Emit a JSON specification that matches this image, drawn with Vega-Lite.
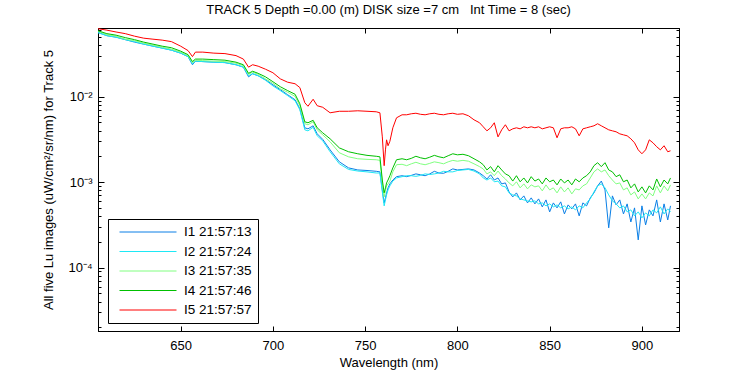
{
  "$schema": "https://vega.github.io/schema/vega-lite/v6.json",
  "width": 581,
  "height": 303,
  "autosize": {"type": "none"},
  "padding": {"left": 98, "top": 28, "right": 71, "bottom": 44},
  "background": "white",
  "title": {"text": "TRACK 5 Depth =0.00 (m) DISK size =7 cm \u00a0 Int Time = 8 (sec)", "fontSize": 13, "font": "Liberation Sans", "fontWeight": "normal", "color": "black", "offset": 9},
  "config": {
    "view": {"stroke": "black", "strokeWidth": 1},
    "axis": {"domainColor": "black", "tickColor": "black", "labelColor": "black", "titleColor": "black", "labelFont": "Liberation Sans", "titleFont": "Liberation Sans", "labelFontSize": 13, "titleFontSize": 13, "titleFontWeight": "normal", "grid": false}
  },
  "data": {"values": [
    {"w": 605, "I1": 0.0570, "I2": 0.0563, "I3": 0.0586, "I4": 0.0594, "I5": 0.0627},
    {"w": 610, "I1": 0.0519, "I2": 0.0519, "I3": 0.0533, "I4": 0.0548, "I5": 0.0602},
    {"w": 615, "I1": 0.0498, "I2": 0.0498, "I3": 0.0512, "I4": 0.0526, "I5": 0.0573},
    {"w": 620, "I1": 0.0466, "I2": 0.0466, "I3": 0.0472, "I4": 0.0492, "I5": 0.0548},
    {"w": 625, "I1": 0.0436, "I2": 0.0442, "I3": 0.0454, "I4": 0.0466, "I5": 0.0512},
    {"w": 630, "I1": 0.0413, "I2": 0.0413, "I3": 0.0424, "I4": 0.0436, "I5": 0.0485},
    {"w": 635, "I1": 0.0391, "I2": 0.0391, "I3": 0.0402, "I4": 0.0413, "I5": 0.0472},
    {"w": 640, "I1": 0.0371, "I2": 0.0371, "I3": 0.0380, "I4": 0.0391, "I5": 0.0460},
    {"w": 645, "I1": 0.0351, "I2": 0.0351, "I3": 0.0361, "I4": 0.0375, "I5": 0.0442},
    {"w": 650, "I1": 0.0324, "I2": 0.0324, "I3": 0.0333, "I4": 0.0342, "I5": 0.0391},
    {"w": 654, "I1": 0.0295, "I2": 0.0295, "I3": 0.0303, "I4": 0.0311, "I5": 0.0347},
    {"w": 656.4, "I1": 0.0237, "I2": 0.0243, "I3": 0.0251, "I4": 0.0258, "I5": 0.0295},
    {"w": 658, "I1": 0.0261, "I2": 0.0261, "I3": 0.0268, "I4": 0.0276, "I5": 0.0333},
    {"w": 662, "I1": 0.0258, "I2": 0.0258, "I3": 0.0265, "I4": 0.0276, "I5": 0.0333},
    {"w": 668, "I1": 0.0254, "I2": 0.0254, "I3": 0.0261, "I4": 0.0272, "I5": 0.0324},
    {"w": 674, "I1": 0.0251, "I2": 0.0251, "I3": 0.0258, "I4": 0.0268, "I5": 0.0320},
    {"w": 680, "I1": 0.0237, "I2": 0.0237, "I3": 0.0247, "I4": 0.0254, "I5": 0.0303},
    {"w": 684, "I1": 0.0222, "I2": 0.0222, "I3": 0.0231, "I4": 0.0237, "I5": 0.0276},
    {"w": 686.8, "I1": 0.0171, "I2": 0.0176, "I3": 0.0183, "I4": 0.0188, "I5": 0.0222},
    {"w": 689, "I1": 0.0186, "I2": 0.0186, "I3": 0.0194, "I4": 0.0199, "I5": 0.0237},
    {"w": 692, "I1": 0.0176, "I2": 0.0176, "I3": 0.0183, "I4": 0.0188, "I5": 0.0228},
    {"w": 696, "I1": 0.0158, "I2": 0.0156, "I3": 0.0162, "I4": 0.0171, "I5": 0.0210},
    {"w": 700, "I1": 0.0138, "I2": 0.0134, "I3": 0.0144, "I4": 0.0150, "I5": 0.0191},
    {"w": 704, "I1": 0.0121, "I2": 0.0118, "I3": 0.0124, "I4": 0.0131, "I5": 0.0162},
    {"w": 708, "I1": 0.01055, "I2": 0.0103, "I3": 0.0113, "I4": 0.0118, "I5": 0.0148},
    {"w": 712, "I1": 0.00922, "I2": 0.00897, "I3": 0.0101, "I4": 0.0107, "I5": 0.0142},
    {"w": 714.6, "I1": 0.00723, "I2": 0.00704, "I3": 0.00785, "I4": 0.00828, "I5": 0.0128},
    {"w": 717.3, "I1": 0.00433, "I2": 0.00410, "I3": 0.00483, "I4": 0.00509, "I5": 0.00851},
    {"w": 719, "I1": 0.00421, "I2": 0.00399, "I3": 0.00470, "I4": 0.00496, "I5": 0.00774},
    {"w": 721.8, "I1": 0.00457, "I2": 0.00439, "I3": 0.00509, "I4": 0.00530, "I5": 0.00935},
    {"w": 724, "I1": 0.00368, "I2": 0.00349, "I3": 0.00410, "I4": 0.00433, "I5": 0.00785},
    {"w": 727, "I1": 0.00317, "I2": 0.00305, "I3": 0.00358, "I4": 0.00378, "I5": 0.00753},
    {"w": 731, "I1": 0.00239, "I2": 0.00227, "I3": 0.00297, "I4": 0.00322, "I5": 0.00649},
    {"w": 736, "I1": 0.00173, "I2": 0.00164, "I3": 0.00221, "I4": 0.00252, "I5": 0.00676},
    {"w": 741, "I1": 0.00147, "I2": 0.00141, "I3": 0.00198, "I4": 0.00227, "I5": 0.00676},
    {"w": 746, "I1": 0.00139, "I2": 0.00135, "I3": 0.00188, "I4": 0.00215, "I5": 0.00685},
    {"w": 751, "I1": 0.00137, "I2": 0.00132, "I3": 0.00185, "I4": 0.00206, "I5": 0.00676},
    {"w": 756, "I1": 0.00134, "I2": 0.00128, "I3": 0.00183, "I4": 0.00201, "I5": 0.00667},
    {"w": 758, "I1": 0.00132, "I2": 0.00128, "I3": 0.00180, "I4": 0.00198, "I5": 0.00649},
    {"w": 759.3, "I1": 0.000812, "I2": 0.000769, "I3": 0.000980, "I4": 0.00106, "I5": 0.00339},
    {"w": 760.3, "I1": 0.000572, "I2": 0.000528, "I3": 0.000672, "I4": 0.000750, "I5": 0.00156},
    {"w": 761, "I1": 0.000655, "I2": 0.000620, "I3": 0.000791, "I4": 0.000858, "I5": 0.00239},
    {"w": 761.6, "I1": 0.000750, "I2": 0.000710, "I3": 0.000905, "I4": 0.000980, "I5": 0.00313},
    {"w": 762.4, "I1": 0.000858, "I2": 0.000812, "I3": 0.000955, "I4": 0.00106, "I5": 0.00267},
    {"w": 763.4, "I1": 0.000955, "I2": 0.000905, "I3": 0.00103, "I4": 0.00119, "I5": 0.00301},
    {"w": 765, "I1": 0.00106, "I2": 0.00103, "I3": 0.00132, "I4": 0.00147, "I5": 0.00433},
    {"w": 767, "I1": 0.00116, "I2": 0.00112, "I3": 0.00160, "I4": 0.00183, "I5": 0.00567},
    {"w": 770, "I1": 0.00119, "I2": 0.00116, "I3": 0.00162, "I4": 0.00188, "I5": 0.00615},
    {"w": 772.5, "I1": 0.00116, "I2": 0.00119, "I3": 0.00156, "I4": 0.00183, "I5": 0.00615},
    {"w": 775, "I1": 0.00120, "I2": 0.00119, "I3": 0.00164, "I4": 0.00190, "I5": 0.00632},
    {"w": 777.5, "I1": 0.00125, "I2": 0.00117, "I3": 0.00171, "I4": 0.00201, "I5": 0.00641},
    {"w": 780, "I1": 0.00122, "I2": 0.00120, "I3": 0.00164, "I4": 0.00193, "I5": 0.00623},
    {"w": 782.5, "I1": 0.00119, "I2": 0.00125, "I3": 0.00160, "I4": 0.00188, "I5": 0.00615},
    {"w": 785, "I1": 0.00125, "I2": 0.00123, "I3": 0.00166, "I4": 0.00196, "I5": 0.00632},
    {"w": 787.5, "I1": 0.00134, "I2": 0.00125, "I3": 0.00173, "I4": 0.00206, "I5": 0.00641},
    {"w": 790, "I1": 0.00128, "I2": 0.00128, "I3": 0.00169, "I4": 0.00198, "I5": 0.00623},
    {"w": 792.5, "I1": 0.00127, "I2": 0.00134, "I3": 0.00164, "I4": 0.00193, "I5": 0.00615},
    {"w": 795, "I1": 0.00134, "I2": 0.00132, "I3": 0.00173, "I4": 0.00204, "I5": 0.00632},
    {"w": 797.5, "I1": 0.00143, "I2": 0.00132, "I3": 0.00180, "I4": 0.00215, "I5": 0.00641},
    {"w": 800, "I1": 0.00139, "I2": 0.00137, "I3": 0.00176, "I4": 0.00209, "I5": 0.00623},
    {"w": 803, "I1": 0.00141, "I2": 0.00139, "I3": 0.00180, "I4": 0.00212, "I5": 0.00632},
    {"w": 806, "I1": 0.00143, "I2": 0.00141, "I3": 0.00176, "I4": 0.00204, "I5": 0.00599},
    {"w": 809, "I1": 0.00139, "I2": 0.00135, "I3": 0.00164, "I4": 0.00188, "I5": 0.00537},
    {"w": 812, "I1": 0.00128, "I2": 0.00125, "I3": 0.00152, "I4": 0.00173, "I5": 0.00496},
    {"w": 814, "I1": 0.00119, "I2": 0.00112, "I3": 0.00143, "I4": 0.00160, "I5": 0.00445},
    {"w": 816, "I1": 0.00109, "I2": 0.00106, "I3": 0.00125, "I4": 0.00139, "I5": 0.00399},
    {"w": 818, "I1": 0.00122, "I2": 0.00112, "I3": 0.00132, "I4": 0.00152, "I5": 0.00433},
    {"w": 820, "I1": 0.00106, "I2": 0.00101, "I3": 0.00119, "I4": 0.00132, "I5": 0.00496},
    {"w": 822, "I1": 0.00112, "I2": 0.00103, "I3": 0.00135, "I4": 0.00156, "I5": 0.00339},
    {"w": 824, "I1": 0.000955, "I2": 0.000905, "I3": 0.00119, "I4": 0.00139, "I5": 0.00410},
    {"w": 826, "I1": 0.000980, "I2": 0.000881, "I3": 0.00109, "I4": 0.00125, "I5": 0.00470},
    {"w": 828, "I1": 0.000769, "I2": 0.000749, "I3": 0.000980, "I4": 0.00119, "I5": 0.00399},
    {"w": 830, "I1": 0.000672, "I2": 0.000710, "I3": 0.000905, "I4": 0.00103, "I5": 0.00421},
    {"w": 832, "I1": 0.000749, "I2": 0.000691, "I3": 0.00101, "I4": 0.00119, "I5": 0.00433},
    {"w": 834, "I1": 0.000620, "I2": 0.000637, "I3": 0.000858, "I4": 0.00101, "I5": 0.00421},
    {"w": 836, "I1": 0.000691, "I2": 0.000620, "I3": 0.000955, "I4": 0.00112, "I5": 0.00445},
    {"w": 838, "I1": 0.000572, "I2": 0.000604, "I3": 0.000835, "I4": 0.000980, "I5": 0.00433},
    {"w": 840, "I1": 0.000655, "I2": 0.000588, "I3": 0.000930, "I4": 0.00116, "I5": 0.00445},
    {"w": 842, "I1": 0.000557, "I2": 0.000604, "I3": 0.000881, "I4": 0.00103, "I5": 0.00433},
    {"w": 844, "I1": 0.000637, "I2": 0.000557, "I3": 0.000905, "I4": 0.00109, "I5": 0.00445},
    {"w": 846, "I1": 0.000514, "I2": 0.000572, "I3": 0.000791, "I4": 0.000955, "I5": 0.00421},
    {"w": 848, "I1": 0.000620, "I2": 0.000528, "I3": 0.000930, "I4": 0.00112, "I5": 0.00433},
    {"w": 850, "I1": 0.000449, "I2": 0.000557, "I3": 0.000812, "I4": 0.00101, "I5": 0.00445},
    {"w": 852, "I1": 0.000572, "I2": 0.000514, "I3": 0.000858, "I4": 0.00106, "I5": 0.00433},
    {"w": 854, "I1": 0.000500, "I2": 0.000542, "I3": 0.000749, "I4": 0.000930, "I5": 0.00331},
    {"w": 856, "I1": 0.000588, "I2": 0.000500, "I3": 0.000881, "I4": 0.00109, "I5": 0.00421},
    {"w": 858, "I1": 0.000425, "I2": 0.000528, "I3": 0.000769, "I4": 0.000980, "I5": 0.00433},
    {"w": 860, "I1": 0.000542, "I2": 0.000487, "I3": 0.000858, "I4": 0.00106, "I5": 0.00433},
    {"w": 862, "I1": 0.000487, "I2": 0.000514, "I3": 0.000729, "I4": 0.000930, "I5": 0.00445},
    {"w": 864, "I1": 0.000557, "I2": 0.000474, "I3": 0.000835, "I4": 0.00109, "I5": 0.00421},
    {"w": 866, "I1": 0.000403, "I2": 0.000528, "I3": 0.000812, "I4": 0.00101, "I5": 0.00349},
    {"w": 868, "I1": 0.000572, "I2": 0.000500, "I3": 0.000905, "I4": 0.00112, "I5": 0.00421},
    {"w": 870, "I1": 0.000528, "I2": 0.000572, "I3": 0.000955, "I4": 0.00119, "I5": 0.00433},
    {"w": 872, "I1": 0.000655, "I2": 0.000637, "I3": 0.00112, "I4": 0.00132, "I5": 0.00445},
    {"w": 874, "I1": 0.000749, "I2": 0.000769, "I3": 0.00132, "I4": 0.00156, "I5": 0.00457},
    {"w": 876, "I1": 0.000905, "I2": 0.000905, "I3": 0.00143, "I4": 0.00169, "I5": 0.00483},
    {"w": 878, "I1": 0.00103, "I2": 0.000955, "I3": 0.00132, "I4": 0.00152, "I5": 0.00457},
    {"w": 880, "I1": 0.000812, "I2": 0.000858, "I3": 0.00139, "I4": 0.00169, "I5": 0.00433},
    {"w": 882, "I1": 0.000292, "I2": 0.000710, "I3": 0.00119, "I4": 0.00139, "I5": 0.00410},
    {"w": 884, "I1": 0.000691, "I2": 0.000604, "I3": 0.00106, "I4": 0.00132, "I5": 0.00399},
    {"w": 886, "I1": 0.000542, "I2": 0.000557, "I3": 0.000955, "I4": 0.00116, "I5": 0.00389},
    {"w": 888, "I1": 0.000620, "I2": 0.000500, "I3": 0.000980, "I4": 0.00122, "I5": 0.00368},
    {"w": 890, "I1": 0.000425, "I2": 0.000528, "I3": 0.000812, "I4": 0.00101, "I5": 0.00358},
    {"w": 892, "I1": 0.000557, "I2": 0.000449, "I3": 0.000858, "I4": 0.00106, "I5": 0.00349},
    {"w": 894, "I1": 0.000342, "I2": 0.000474, "I3": 0.000710, "I4": 0.000858, "I5": 0.00322},
    {"w": 896, "I1": 0.000500, "I2": 0.000403, "I3": 0.000769, "I4": 0.000955, "I5": 0.00289},
    {"w": 898, "I1": 0.000211, "I2": 0.000449, "I3": 0.000637, "I4": 0.000769, "I5": 0.00239},
    {"w": 900, "I1": 0.000528, "I2": 0.000382, "I3": 0.000729, "I4": 0.000881, "I5": 0.00215},
    {"w": 902, "I1": 0.000316, "I2": 0.000437, "I3": 0.000637, "I4": 0.000749, "I5": 0.00239},
    {"w": 904, "I1": 0.000474, "I2": 0.000403, "I3": 0.000749, "I4": 0.000905, "I5": 0.00313},
    {"w": 906, "I1": 0.000403, "I2": 0.000474, "I3": 0.000691, "I4": 0.000812, "I5": 0.00289},
    {"w": 908, "I1": 0.000620, "I2": 0.000437, "I3": 0.000905, "I4": 0.00109, "I5": 0.00260},
    {"w": 910, "I1": 0.000342, "I2": 0.000514, "I3": 0.000749, "I4": 0.000881, "I5": 0.00239},
    {"w": 912, "I1": 0.000557, "I2": 0.000425, "I3": 0.000905, "I4": 0.00106, "I5": 0.00267},
    {"w": 914, "I1": 0.000361, "I2": 0.000487, "I3": 0.000791, "I4": 0.000955, "I5": 0.00227},
    {"w": 915.5, "I1": 0.000528, "I2": 0.000449, "I3": 0.000930, "I4": 0.00112, "I5": 0.00233}
  ]},
  "transform": [
    {"fold": ["I1", "I2", "I3", "I4", "I5"], "as": ["series", "value"]}
  ],
  "layer": [
    {
      "mark": {"type": "line", "strokeWidth": 1, "clip": true},
      "encoding": {
        "x": {"field": "w", "type": "quantitative",
              "scale": {"domain": [605.2, 920.1], "zero": false, "nice": false},
              "axis": {"title": "Wavelength (nm)", "values": [650, 700, 750, 800, 850, 900], "tickSize": -5, "labelPadding": 13, "titlePadding": 4, "labelFlush": false}},
        "y": {"field": "value", "type": "quantitative",
              "scale": {"type": "log", "domain": [0.0000181, 0.0638], "nice": false},
              "axis": {"title": "All five Lu images (uW/cm\u00b2/sr/nm) for Track 5",
                       "values": [0.00002, 0.00003, 0.00004, 0.00005, 0.00006, 0.00007, 0.00008, 0.00009, 0.0001, 0.0002, 0.0003, 0.0004, 0.0005, 0.0006, 0.0007, 0.0008, 0.0009, 0.001, 0.002, 0.003, 0.004, 0.005, 0.006, 0.007, 0.008, 0.009, 0.01, 0.02, 0.03, 0.04, 0.05, 0.06],
                       "labelExpr": "datum.value == 0.01 ? '10\u207b\u00b2' : datum.value == 0.001 ? '10\u207b\u00b3' : datum.value == 0.0001 ? '10\u207b\u2074' : ''",
                       "tickSize": {"condition": {"test": "datum.value == 0.01 || datum.value == 0.001 || datum.value == 0.0001", "value": -6}, "value": -3},
                       "labelPadding": 12, "titlePadding": 12, "labelFlush": false}},
        "color": {"field": "series", "type": "nominal",
                  "scale": {"domain": ["I1", "I2", "I3", "I4", "I5"], "range": ["#0a7fe6", "#1ee8f5", "#80ff80", "#00c000", "#ff0000"]},
                  "legend": {"orient": "none", "legendX": 10, "legendY": 191, "title": null,
                             "labelExpr": "datum.label == 'I1' ? 'I1 21:57:13' : datum.label == 'I2' ? 'I2 21:57:24' : datum.label == 'I3' ? 'I3 21:57:35' : datum.label == 'I4' ? 'I4 21:57:46' : 'I5 21:57:57'",
                             "symbolType": "stroke", "symbolSize": 3249, "symbolStrokeWidth": 1, "clipHeight": 14, "rowPadding": 5.5,
                             "padding": 6, "strokeColor": "black", "fillColor": "white", "labelFontSize": 13.5, "labelFont": "Liberation Sans",
                             "labelColor": "black", "symbolOffset": 5, "labelOffset": 7, "cornerRadius": 0}},
        "order": {"field": "w", "type": "quantitative"}
      }
    },
    {
      "mark": {"type": "point", "opacity": 0},
      "encoding": {
        "x": {"field": "w", "type": "quantitative",
              "axis": {"orient": "top", "title": null, "labels": false, "values": [650, 700, 750, 800, 850, 900], "tickSize": -5}},
        "y": {"field": "value", "type": "quantitative",
              "axis": {"orient": "right", "title": null, "labels": false,
                       "values": [0.00002, 0.00003, 0.00004, 0.00005, 0.00006, 0.00007, 0.00008, 0.00009, 0.0001, 0.0002, 0.0003, 0.0004, 0.0005, 0.0006, 0.0007, 0.0008, 0.0009, 0.001, 0.002, 0.003, 0.004, 0.005, 0.006, 0.007, 0.008, 0.009, 0.01, 0.02, 0.03, 0.04, 0.05, 0.06],
                       "tickSize": {"condition": {"test": "datum.value == 0.01 || datum.value == 0.001 || datum.value == 0.0001", "value": -6}, "value": -3}}}
      }
    }
  ],
  "resolve": {"axis": {"x": "independent", "y": "independent"}}
}
